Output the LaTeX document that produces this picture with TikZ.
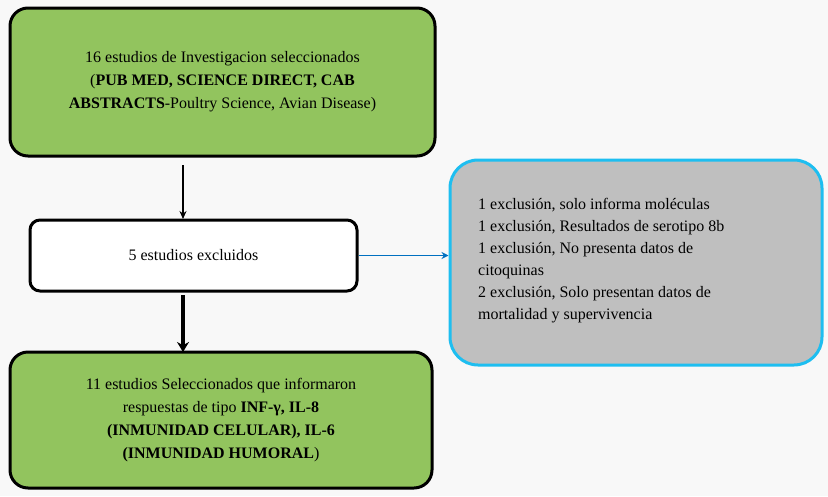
\documentclass[tikz,border=0pt]{standalone}
\usepackage{fontspec}
\setmainfont{Liberation Serif}
\usetikzlibrary{arrows.meta}
\definecolor{grn}{RGB}{146,196,94}
\definecolor{gry}{RGB}{191,191,191}
\definecolor{cyn}{RGB}{30,190,240}
\definecolor{arr}{RGB}{0,112,192}
\definecolor{bg}{RGB}{248,248,248}
\begin{document}
\begin{tikzpicture}[x=1pt,y=-1pt,
  box/.style={draw=black,line width=3pt,rounded corners=18pt,align=center,font=\fontsize{16}{23}\selectfont},
  txt/.style={font=\fontsize{16}{22}\selectfont}]
\fill[bg] (0,0) rectangle (828,496);
\useasboundingbox (0,0) rectangle (828,496);
\node[box,fill=grn,minimum width=425pt,minimum height=148pt] (top) at (222.5,82) {16 estudios de Investigacion seleccionados\\(\textbf{PUB MED, SCIENCE DIRECT, CAB}\\\textbf{ABSTRACTS}-Poultry Science, Avian Disease)};
\node[box,fill=white,rounded corners=10pt,minimum width=327pt,minimum height=71pt] (mid) at (193.5,255.5) {5 estudios excluidos};
\node[box,draw=cyn,fill=gry,rounded corners=28pt,minimum width=372pt,minimum height=205pt] (gray) at (636,262.5) {};
\node[txt,align=left,anchor=north west,inner sep=0pt] (gt) at (478,198) {1 exclusión, solo informa moléculas\\1 exclusión, Resultados de serotipo 8b\\1 exclusión, No presenta datos de\\citoquinas\\2 exclusión, Solo presentan datos de\\mortalidad y supervivencia};
\node[box,fill=grn,minimum width=422pt,minimum height=136pt] (bot) at (221,420) {11 estudios Seleccionados que informaron\\respuestas de tipo \textbf{INF-γ, IL-8}\\\textbf{(INMUNIDAD CELULAR), IL-6}\\\textbf{(INMUNIDAD HUMORAL})};
\coordinate (a1) at (183,165);
\coordinate (a2) at (183,219);
\draw[-{Stealth[length=8pt,width=7pt]},line width=1.2pt] (a1) -- (a2);
\coordinate (gw) at (gray.west |- mid.east);
\draw[-{Stealth[length=7pt,width=7pt]},line width=1.3pt,arr] (mid.east) -- (gw);
\coordinate (b1) at (183,295);
\coordinate (b2) at (183,352);
\draw[-{Stealth[length=10pt,width=12pt]},line width=4.5pt] (b1) -- (b2);
\end{tikzpicture}
\end{document}
